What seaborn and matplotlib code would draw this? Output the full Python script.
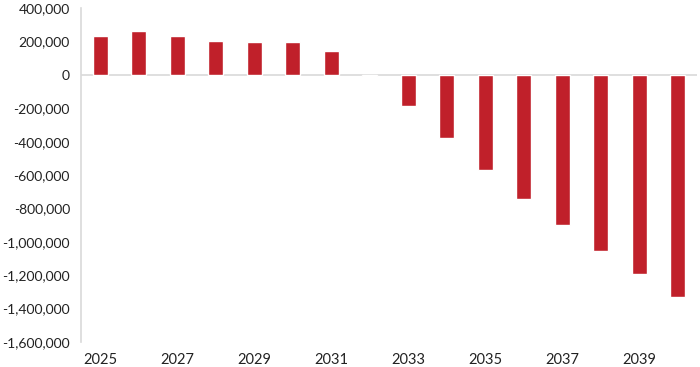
import matplotlib
matplotlib.use("Agg")
import matplotlib.pyplot as plt
import matplotlib.ticker as mticker
import seaborn as sns
import pandas as pd

years = [str(y) for y in range(2025, 2041)]
values = [230000, 262000, 232000, 204000, 196000, 196000, 140000, -5000,
          -188000, -380000, -570000, -744000, -900000, -1052000, -1194000, -1328000]
ytick_values = list(range(-1600000, 400001, 200000))
xtick_labels = [y if int(y) % 2 == 1 else "" for y in years]

sns.set_theme(style="white")
plt.rcParams['font.family'] = ['Lato', 'DejaVu Sans']

df = pd.DataFrame({"year": years, "value": values})

fig = plt.figure(figsize=(7, 3.67), dpi=100)
ax = fig.add_axes([0.1157, 0.068, 0.88, 0.91])
sns.barplot(data=df, x="year", y="value", order=years, color="#C0202A",
            width=0.4, saturation=1, ax=ax)

ax.set_ylim(-1600000, 400000)
ax.set_xlim(-0.5, 15.5)
ax.set_yticks(ytick_values)
ax.yaxis.set_major_formatter(mticker.FuncFormatter(lambda v, p: f"{int(v):,}"))
ax.set_xticks(range(len(years)))
ax.set_xticklabels(xtick_labels)
ax.set_xlabel("")
ax.set_ylabel("")
ax.tick_params(axis="y", length=0, pad=8, labelsize=10, labelcolor="#222222")
ax.tick_params(axis="x", length=0, pad=8, labelsize=10.5, labelcolor="#222222")
ax.axhline(0, color="#d9d9d9", lw=1.2, zorder=0)
for s in ["top", "right", "bottom"]:
    ax.spines[s].set_visible(False)
ax.spines["left"].set_color("#d9d9d9")
ax.spines["left"].set_linewidth(1.2)

fig.savefig("out.png", dpi=100)
